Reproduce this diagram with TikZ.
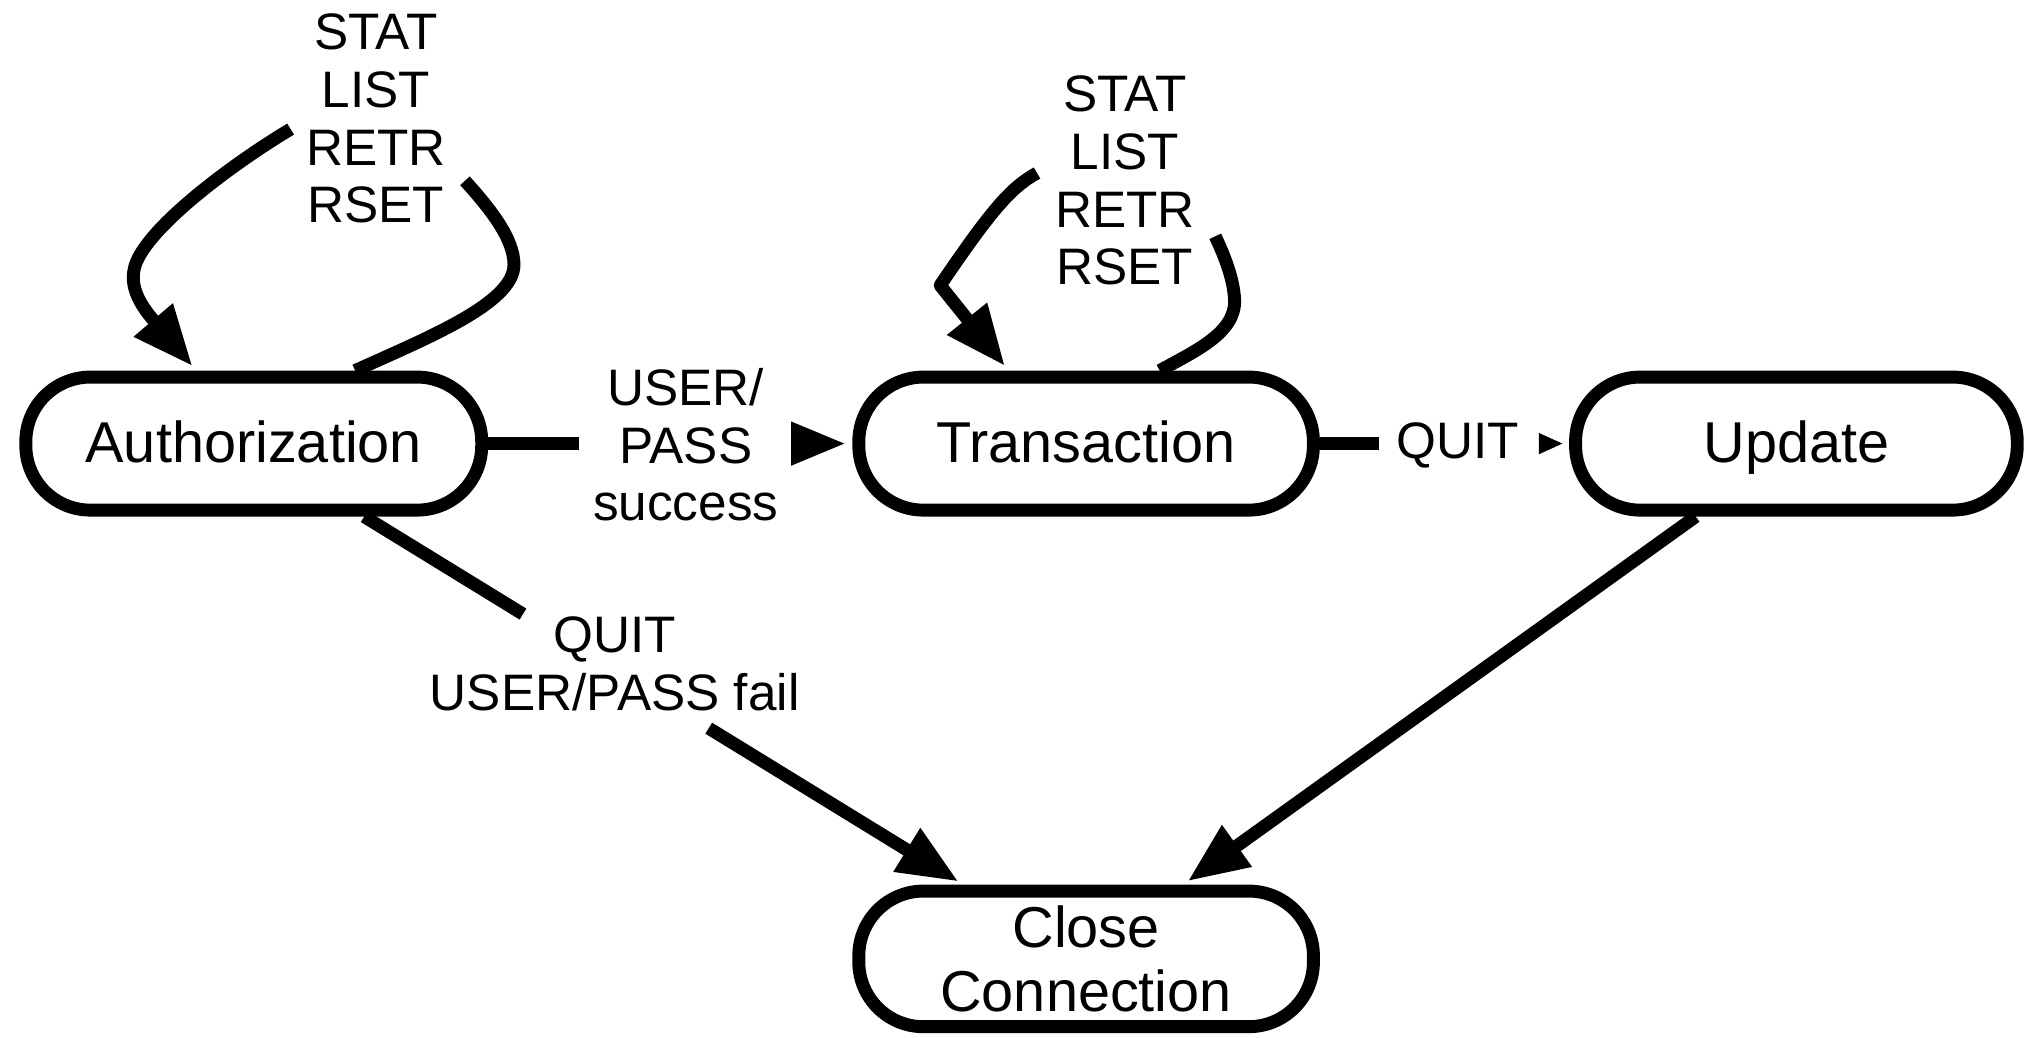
\documentclass[tikz,border=0pt]{standalone}
\usepackage{fontspec}
\setmainfont{Liberation Sans}
\usetikzlibrary{arrows.meta,calc}
\begin{document}
\begin{tikzpicture}[x=0.1mm,y=-0.1mm,
  lw/.style={line width=1.0mm},
  state/.style={draw,lw,rounded corners=5mm,inner sep=0pt,minimum height=10.3mm,
    font=\fontsize{12.7}{14.2}\selectfont,align=center},
  oneline/.style={text height=3.0mm,text depth=0pt},
  lbl/.style={inner sep=0pt,align=center,font=\fontsize{11.3}{12.7}\selectfont},
  conn/.style={lw,line join=round},
  bigarrow/.style={lw,line join=round,-{Triangle[length=4.7mm,width=3.7mm]},shorten >=0.45mm},
  harrow/.style={lw,-{Triangle[length=4.3mm,width=3.1mm]},shorten >=0.45mm},
  smallarrow/.style={lw,-{Triangle[length=1.9mm,width=1.5mm]},shorten >=0.45mm},
]
\useasboundingbox (0,0) rectangle (1568,803);

% states
\node[state,oneline,minimum width=35.3mm] (A) at (196.5,343.5) {Authorization};
\node[state,oneline,minimum width=35.2mm] (T) at (841,343.5) {Transaction};
\node[state,oneline,minimum width=34.2mm] (U) at (1391,343.5) {Update};
\node[state,minimum width=35.2mm,minimum height=10.5mm] (C) at (841,742.5) {Close\\Connection};

% labels
\node[lbl] (l1) at (291,92) {STAT\\LIST\\RETR\\RSET};
\node[lbl] (l2) at (871,140) {STAT\\LIST\\RETR\\RSET};
\node[lbl] (l3) at (531,344.5) {USER/\\PASS\\success};
\node[lbl,anchor=base] (l4) at (1129,355) {QUIT};
\node[lbl] (l5) at (476,514) {QUIT\\USER/PASS fail};

% Authorization -> Transaction
\coordinate (g1) at (448,343.5);
\coordinate (g2) at (616,343.5);
\draw[conn] (A.east) -- (g1);
\draw[harrow] (g2) -- (T.west);

% Transaction -> Update
\coordinate (g3) at (1068,343.5);
\coordinate (g4) at (1194,343.5);
\draw[conn] (T.east) -- (g3);
\draw[smallarrow] (g4) -- (U.west);

% Authorization -> Close
\coordinate (s1) at ($(A.south west)+(267,0)$);
\coordinate (e1) at ($(C.north west)+(86,0)$);
\draw[conn] (s1) -- ($(s1)!0.265!(e1)$);
\draw[bigarrow] ($(s1)!0.575!(e1)$) -- (e1);

% Update -> Close
\draw[bigarrow] ($(U.south west)+(98,0)$) -- ($(C.north west)+(256,0)$);

% Authorization self loop
\coordinate (a1) at (225,100);
\coordinate (a2) at (360,140);
\draw[conn] ($(A.north west)+(260,0)$) .. controls (330,262) and (398,235) .. (398,205)
  .. controls (398,185) and (380,162) .. (a2);
\draw[bigarrow] (a1) .. controls (175,130) and (110,180) .. (104,208)
  .. controls (100,225) and (112,240) .. ($(A.north west)+(137,0)$);

% Transaction self loop
\coordinate (t1) at (803,134);
\coordinate (t2) at (941,183);
\draw[conn] ($(T.north west)+(238,0)$) .. controls (925,272) and (957,258) .. (956,232)
  .. controls (955,215) and (948,198) .. (t2);
\draw[bigarrow] (t1) .. controls (783,145) and (768,162) .. (728,221)
  -- ($(T.north west)+(121,0)$);
\end{tikzpicture}
\end{document}
